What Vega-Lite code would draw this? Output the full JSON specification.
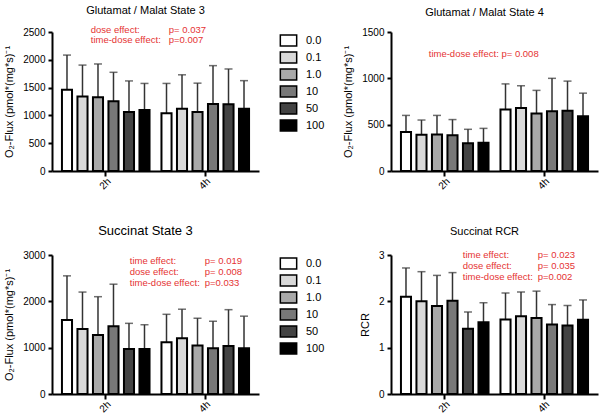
{
  "$schema": "https://vega.github.io/schema/vega-lite/v6.json",
  "background": "white",
  "padding": {"left": 3, "top": 4, "right": 3, "bottom": 0},
  "datasets": {
    "bars": [
      {"panel": "GM3", "time": "2h", "dose": "0.0", "mean": 1460, "upper": 2085},
      {"panel": "GM3", "time": "2h", "dose": "0.1", "mean": 1340, "upper": 1905},
      {"panel": "GM3", "time": "2h", "dose": "1.0", "mean": 1325, "upper": 1925},
      {"panel": "GM3", "time": "2h", "dose": "10", "mean": 1255, "upper": 1775},
      {"panel": "GM3", "time": "2h", "dose": "50", "mean": 1060, "upper": 1620},
      {"panel": "GM3", "time": "2h", "dose": "100", "mean": 1095, "upper": 1575},
      {"panel": "GM3", "time": "4h", "dose": "0.0", "mean": 1040, "upper": 1575},
      {"panel": "GM3", "time": "4h", "dose": "0.1", "mean": 1120, "upper": 1730},
      {"panel": "GM3", "time": "4h", "dose": "1.0", "mean": 1060, "upper": 1580},
      {"panel": "GM3", "time": "4h", "dose": "10", "mean": 1205, "upper": 1895},
      {"panel": "GM3", "time": "4h", "dose": "50", "mean": 1200, "upper": 1835},
      {"panel": "GM3", "time": "4h", "dose": "100", "mean": 1120, "upper": 1625},
      {"panel": "GM4", "time": "2h", "dose": "0.0", "mean": 420, "upper": 600},
      {"panel": "GM4", "time": "2h", "dose": "0.1", "mean": 390, "upper": 550},
      {"panel": "GM4", "time": "2h", "dose": "1.0", "mean": 395, "upper": 600},
      {"panel": "GM4", "time": "2h", "dose": "10", "mean": 385, "upper": 555},
      {"panel": "GM4", "time": "2h", "dose": "50", "mean": 300, "upper": 450},
      {"panel": "GM4", "time": "2h", "dose": "100", "mean": 305, "upper": 460},
      {"panel": "GM4", "time": "4h", "dose": "0.0", "mean": 665, "upper": 940},
      {"panel": "GM4", "time": "4h", "dose": "0.1", "mean": 680, "upper": 920},
      {"panel": "GM4", "time": "4h", "dose": "1.0", "mean": 620, "upper": 870},
      {"panel": "GM4", "time": "4h", "dose": "10", "mean": 645, "upper": 1000},
      {"panel": "GM4", "time": "4h", "dose": "50", "mean": 650, "upper": 970},
      {"panel": "GM4", "time": "4h", "dose": "100", "mean": 590, "upper": 840},
      {"panel": "S3", "time": "2h", "dose": "0.0", "mean": 1595, "upper": 2550},
      {"panel": "S3", "time": "2h", "dose": "0.1", "mean": 1405, "upper": 2200},
      {"panel": "S3", "time": "2h", "dose": "1.0", "mean": 1275, "upper": 2100},
      {"panel": "S3", "time": "2h", "dose": "10", "mean": 1460, "upper": 2370},
      {"panel": "S3", "time": "2h", "dose": "50", "mean": 970, "upper": 1525},
      {"panel": "S3", "time": "2h", "dose": "100", "mean": 970, "upper": 1495},
      {"panel": "S3", "time": "4h", "dose": "0.0", "mean": 1115, "upper": 1720},
      {"panel": "S3", "time": "4h", "dose": "0.1", "mean": 1205, "upper": 1830},
      {"panel": "S3", "time": "4h", "dose": "1.0", "mean": 1045, "upper": 1635},
      {"panel": "S3", "time": "4h", "dose": "10", "mean": 985, "upper": 1570},
      {"panel": "S3", "time": "4h", "dose": "50", "mean": 1035, "upper": 1820},
      {"panel": "S3", "time": "4h", "dose": "100", "mean": 990, "upper": 1680},
      {"panel": "RCR", "time": "2h", "dose": "0.0", "mean": 2.10, "upper": 2.72},
      {"panel": "RCR", "time": "2h", "dose": "0.1", "mean": 2.00, "upper": 2.64},
      {"panel": "RCR", "time": "2h", "dose": "1.0", "mean": 1.90, "upper": 2.56},
      {"panel": "RCR", "time": "2h", "dose": "10", "mean": 2.01, "upper": 2.62},
      {"panel": "RCR", "time": "2h", "dose": "50", "mean": 1.41, "upper": 1.77},
      {"panel": "RCR", "time": "2h", "dose": "100", "mean": 1.55, "upper": 1.97},
      {"panel": "RCR", "time": "4h", "dose": "0.0", "mean": 1.61, "upper": 2.18},
      {"panel": "RCR", "time": "4h", "dose": "0.1", "mean": 1.68, "upper": 2.20},
      {"panel": "RCR", "time": "4h", "dose": "1.0", "mean": 1.64, "upper": 2.22},
      {"panel": "RCR", "time": "4h", "dose": "10", "mean": 1.50, "upper": 1.93},
      {"panel": "RCR", "time": "4h", "dose": "50", "mean": 1.48, "upper": 1.91},
      {"panel": "RCR", "time": "4h", "dose": "100", "mean": 1.60, "upper": 2.03}
    ],
    "notes": [
      {"panel": "GM3", "labels": ["dose effect:", "time-dose effect:"], "ps": ["p= 0.037", "p=0.007"]},
      {"panel": "GM4", "labels": ["time-dose effect: p= 0.008"], "ps": [""]},
      {"panel": "S3", "labels": ["time effect:", "dose effect:", "time-dose effect:"], "ps": ["p= 0.019", "p= 0.008", "p=0.033"]},
      {"panel": "RCR", "labels": ["time effect:", "dose effect:", "time-dose effect:"], "ps": ["p= 0.023", "p= 0.035", "p=0.002"]}
    ]
  },
  "columns": 2,
  "spacing": {"row": 34, "column": 17},
  "resolve": {"scale": {"fill": "independent", "y": "independent", "x": "independent", "xOffset": "independent"}, "legend": {"fill": "independent"}},
  "concat": [
    {
      "title": {"text": "Glutamat / Malat State 3", "fontSize": 11, "offset": 9},
      "width": 207, "height": 139,
      "layer": [
        {"data": {"name": "bars"}, "transform": [{"filter": "datum.panel === 'GM3'"}],
         "mark": {"type": "rule", "color": "#333", "strokeWidth": 1.5},
         "encoding": {
           "x": {"field": "time", "type": "nominal", "title": null, "scale": {"paddingInner": 0.12, "paddingOuter": 0.1}},
           "xOffset": {"field": "dose", "type": "nominal", "scale": {"domain": ["0.0", "0.1", "1.0", "10", "50", "100"], "paddingInner": 0.35, "paddingOuter": 0}},
           "y": {"field": "mean", "type": "quantitative", "title": "O₂-Flux (pmol*(mg*s)⁻¹", "scale": {"domain": [0, 2500], "nice": false}, "axis": {"values": [0, 500, 1000, 1500, 2000, 2500], "format": "d"}},
           "y2": {"field": "upper"}}},
        {"data": {"name": "bars"}, "transform": [{"filter": "datum.panel === 'GM3'"}],
         "mark": {"type": "tick", "orient": "horizontal", "size": 8, "thickness": 1.5, "color": "#333"},
         "encoding": {
           "x": {"field": "time", "type": "nominal", "title": null},
           "xOffset": {"field": "dose", "type": "nominal"},
           "y": {"field": "upper", "type": "quantitative", "title": "O₂-Flux (pmol*(mg*s)⁻¹", "axis": {"values": [0, 500, 1000, 1500, 2000, 2500], "format": "d"}}}},
        {"data": {"name": "bars"}, "transform": [{"filter": "datum.panel === 'GM3'"}],
         "mark": {"type": "bar", "stroke": "black", "strokeWidth": 2},
         "encoding": {
           "x": {"field": "time", "type": "nominal", "title": null},
           "xOffset": {"field": "dose", "type": "nominal"},
           "y": {"field": "mean", "type": "quantitative", "title": "O₂-Flux (pmol*(mg*s)⁻¹", "axis": {"values": [0, 500, 1000, 1500, 2000, 2500], "format": "d"}},
           "fill": {"field": "dose", "type": "nominal", "scale": {"domain": ["0.0", "0.1", "1.0", "10", "50", "100"], "range": ["#ffffff", "#d9d9d9", "#a9a9a9", "#787878", "#434343", "#000000"]}, "legend": {"title": null}}}},
        {"data": {"name": "notes"}, "transform": [{"filter": "datum.panel === 'GM3'"}],
         "mark": {"type": "text", "align": "left", "baseline": "top", "dx": -15, "color": "#e53333", "fontSize": 9.5, "lineHeight": 10},
         "encoding": {"x": {"datum": "2h", "type": "nominal", "title": null}, "y": {"datum": 2626, "type": "quantitative", "title": "O₂-Flux (pmol*(mg*s)⁻¹", "axis": {"values": [0, 500, 1000, 1500, 2000, 2500], "format": "d"}}, "text": {"field": "labels"}}},
        {"data": {"name": "notes"}, "transform": [{"filter": "datum.panel === 'GM3'"}],
         "mark": {"type": "text", "align": "left", "baseline": "top", "dx": 63, "color": "#e53333", "fontSize": 9.5, "lineHeight": 10},
         "encoding": {"x": {"datum": "2h", "type": "nominal", "title": null}, "y": {"datum": 2626, "type": "quantitative", "title": "O₂-Flux (pmol*(mg*s)⁻¹", "axis": {"values": [0, 500, 1000, 1500, 2000, 2500], "format": "d"}}, "text": {"field": "ps"}}}
      ]
    },
    {
      "title": {"text": "Glutamat / Malat State 4", "fontSize": 11, "offset": 9},
      "width": 207, "height": 139,
      "layer": [
        {"data": {"name": "bars"}, "transform": [{"filter": "datum.panel === 'GM4'"}],
         "mark": {"type": "rule", "color": "#333", "strokeWidth": 1.5},
         "encoding": {
           "x": {"field": "time", "type": "nominal", "title": null, "scale": {"paddingInner": 0.12, "paddingOuter": 0.1}},
           "xOffset": {"field": "dose", "type": "nominal", "scale": {"domain": ["0.0", "0.1", "1.0", "10", "50", "100"], "paddingInner": 0.35, "paddingOuter": 0}},
           "y": {"field": "mean", "type": "quantitative", "title": "O₂-Flux (pmol*(mg*s)⁻¹", "scale": {"domain": [0, 1500], "nice": false}, "axis": {"values": [0, 500, 1000, 1500], "format": "d"}},
           "y2": {"field": "upper"}}},
        {"data": {"name": "bars"}, "transform": [{"filter": "datum.panel === 'GM4'"}],
         "mark": {"type": "tick", "orient": "horizontal", "size": 8, "thickness": 1.5, "color": "#333"},
         "encoding": {
           "x": {"field": "time", "type": "nominal", "title": null},
           "xOffset": {"field": "dose", "type": "nominal"},
           "y": {"field": "upper", "type": "quantitative", "title": "O₂-Flux (pmol*(mg*s)⁻¹", "axis": {"values": [0, 500, 1000, 1500], "format": "d"}}}},
        {"data": {"name": "bars"}, "transform": [{"filter": "datum.panel === 'GM4'"}],
         "mark": {"type": "bar", "stroke": "black", "strokeWidth": 2},
         "encoding": {
           "x": {"field": "time", "type": "nominal", "title": null},
           "xOffset": {"field": "dose", "type": "nominal"},
           "y": {"field": "mean", "type": "quantitative", "title": "O₂-Flux (pmol*(mg*s)⁻¹", "axis": {"values": [0, 500, 1000, 1500], "format": "d"}},
           "fill": {"field": "dose", "type": "nominal", "scale": {"domain": ["0.0", "0.1", "1.0", "10", "50", "100"], "range": ["#ffffff", "#d9d9d9", "#a9a9a9", "#787878", "#434343", "#000000"]}, "legend": null}}},
        {"data": {"name": "notes"}, "transform": [{"filter": "datum.panel === 'GM4'"}],
         "mark": {"type": "text", "align": "left", "baseline": "top", "dx": -16, "color": "#e53333", "fontSize": 9.5, "lineHeight": 10},
         "encoding": {"x": {"datum": "2h", "type": "nominal", "title": null}, "y": {"datum": 1315, "type": "quantitative", "title": "O₂-Flux (pmol*(mg*s)⁻¹", "axis": {"values": [0, 500, 1000, 1500], "format": "d"}}, "text": {"field": "labels"}}}
      ]
    },
    {
      "title": {"text": "Succinat State 3", "fontSize": 13, "offset": 12},
      "width": 207, "height": 139,
      "layer": [
        {"data": {"name": "bars"}, "transform": [{"filter": "datum.panel === 'S3'"}],
         "mark": {"type": "rule", "color": "#333", "strokeWidth": 1.5},
         "encoding": {
           "x": {"field": "time", "type": "nominal", "title": null, "scale": {"paddingInner": 0.12, "paddingOuter": 0.1}},
           "xOffset": {"field": "dose", "type": "nominal", "scale": {"domain": ["0.0", "0.1", "1.0", "10", "50", "100"], "paddingInner": 0.35, "paddingOuter": 0}},
           "y": {"field": "mean", "type": "quantitative", "title": "O₂-Flux (pmol*(mg*s)⁻¹", "scale": {"domain": [0, 3000], "nice": false}, "axis": {"values": [0, 1000, 2000, 3000], "format": "d"}},
           "y2": {"field": "upper"}}},
        {"data": {"name": "bars"}, "transform": [{"filter": "datum.panel === 'S3'"}],
         "mark": {"type": "tick", "orient": "horizontal", "size": 8, "thickness": 1.5, "color": "#333"},
         "encoding": {
           "x": {"field": "time", "type": "nominal", "title": null},
           "xOffset": {"field": "dose", "type": "nominal"},
           "y": {"field": "upper", "type": "quantitative", "title": "O₂-Flux (pmol*(mg*s)⁻¹", "axis": {"values": [0, 1000, 2000, 3000], "format": "d"}}}},
        {"data": {"name": "bars"}, "transform": [{"filter": "datum.panel === 'S3'"}],
         "mark": {"type": "bar", "stroke": "black", "strokeWidth": 2},
         "encoding": {
           "x": {"field": "time", "type": "nominal", "title": null},
           "xOffset": {"field": "dose", "type": "nominal"},
           "y": {"field": "mean", "type": "quantitative", "title": "O₂-Flux (pmol*(mg*s)⁻¹", "axis": {"values": [0, 1000, 2000, 3000], "format": "d"}},
           "fill": {"field": "dose", "type": "nominal", "scale": {"domain": ["0.0", "0.1", "1.0", "10", "50", "100"], "range": ["#ffffff", "#d9d9d9", "#a9a9a9", "#787878", "#434343", "#000000"]}, "legend": {"title": null}}}},
        {"data": {"name": "notes"}, "transform": [{"filter": "datum.panel === 'S3'"}],
         "mark": {"type": "text", "align": "left", "baseline": "top", "dx": 24, "color": "#e53333", "fontSize": 9.5, "lineHeight": 11},
         "encoding": {"x": {"datum": "2h", "type": "nominal", "title": null}, "y": {"datum": 2989, "type": "quantitative", "title": "O₂-Flux (pmol*(mg*s)⁻¹", "axis": {"values": [0, 1000, 2000, 3000], "format": "d"}}, "text": {"field": "labels"}}},
        {"data": {"name": "notes"}, "transform": [{"filter": "datum.panel === 'S3'"}],
         "mark": {"type": "text", "align": "left", "baseline": "top", "dx": 99, "color": "#e53333", "fontSize": 9.5, "lineHeight": 11},
         "encoding": {"x": {"datum": "2h", "type": "nominal", "title": null}, "y": {"datum": 2989, "type": "quantitative", "title": "O₂-Flux (pmol*(mg*s)⁻¹", "axis": {"values": [0, 1000, 2000, 3000], "format": "d"}}, "text": {"field": "ps"}}}
      ]
    },
    {
      "title": {"text": "Succinat RCR", "fontSize": 11, "offset": 13},
      "width": 207, "height": 139,
      "layer": [
        {"data": {"name": "bars"}, "transform": [{"filter": "datum.panel === 'RCR'"}],
         "mark": {"type": "rule", "color": "#333", "strokeWidth": 1.5},
         "encoding": {
           "x": {"field": "time", "type": "nominal", "title": null, "scale": {"paddingInner": 0.12, "paddingOuter": 0.1}},
           "xOffset": {"field": "dose", "type": "nominal", "scale": {"domain": ["0.0", "0.1", "1.0", "10", "50", "100"], "paddingInner": 0.35, "paddingOuter": 0}},
           "y": {"field": "mean", "type": "quantitative", "title": "RCR", "scale": {"domain": [0, 3], "nice": false}, "axis": {"values": [0, 1, 2, 3], "format": "d"}},
           "y2": {"field": "upper"}}},
        {"data": {"name": "bars"}, "transform": [{"filter": "datum.panel === 'RCR'"}],
         "mark": {"type": "tick", "orient": "horizontal", "size": 8, "thickness": 1.5, "color": "#333"},
         "encoding": {
           "x": {"field": "time", "type": "nominal", "title": null},
           "xOffset": {"field": "dose", "type": "nominal"},
           "y": {"field": "upper", "type": "quantitative", "title": "RCR", "axis": {"values": [0, 1, 2, 3], "format": "d"}}}},
        {"data": {"name": "bars"}, "transform": [{"filter": "datum.panel === 'RCR'"}],
         "mark": {"type": "bar", "stroke": "black", "strokeWidth": 2},
         "encoding": {
           "x": {"field": "time", "type": "nominal", "title": null},
           "xOffset": {"field": "dose", "type": "nominal"},
           "y": {"field": "mean", "type": "quantitative", "title": "RCR", "axis": {"values": [0, 1, 2, 3], "format": "d"}},
           "fill": {"field": "dose", "type": "nominal", "scale": {"domain": ["0.0", "0.1", "1.0", "10", "50", "100"], "range": ["#ffffff", "#d9d9d9", "#a9a9a9", "#787878", "#434343", "#000000"]}, "legend": null}}},
        {"data": {"name": "notes"}, "transform": [{"filter": "datum.panel === 'RCR'"}],
         "mark": {"type": "text", "align": "left", "baseline": "top", "dx": 18, "color": "#e53333", "fontSize": 9.5, "lineHeight": 11},
         "encoding": {"x": {"datum": "2h", "type": "nominal", "title": null}, "y": {"datum": 3.1, "type": "quantitative", "title": "RCR", "axis": {"values": [0, 1, 2, 3], "format": "d"}}, "text": {"field": "labels"}}},
        {"data": {"name": "notes"}, "transform": [{"filter": "datum.panel === 'RCR'"}],
         "mark": {"type": "text", "align": "left", "baseline": "top", "dx": 93, "color": "#e53333", "fontSize": 9.5, "lineHeight": 11},
         "encoding": {"x": {"datum": "2h", "type": "nominal", "title": null}, "y": {"datum": 3.1, "type": "quantitative", "title": "RCR", "axis": {"values": [0, 1, 2, 3], "format": "d"}}, "text": {"field": "ps"}}}
      ]
    }
  ],
  "config": {
    "font": "Liberation Sans",
    "view": {"stroke": null},
    "axis": {"domainColor": "black", "domainWidth": 2, "tickColor": "black", "tickWidth": 2, "tickSize": 4, "labelColor": "black", "labelFontSize": 10, "labelFont": "Liberation Sans", "titleFont": "Liberation Sans", "titleFontSize": 11, "titleFontWeight": "normal", "titleColor": "black", "grid": false, "labelOverlap": false},
    "axisX": {"labelAngle": -45, "tickSize": 5, "labelPadding": 0},
    "axisY": {"titlePadding": 8, "labelPadding": 3},
    "legend": {"orient": "right", "offset": 21, "padding": 0, "symbolType": "M-1.12,-0.75H1.12V0.75H-1.12Z", "symbolSize": 213, "symbolStrokeColor": "black", "symbolStrokeWidth": 1.5, "symbolOpacity": 1, "labelFontSize": 11, "labelColor": "black", "labelFont": "Liberation Sans", "labelOffset": 9, "rowPadding": 0},
    "title": {"fontWeight": "normal", "color": "black", "font": "Liberation Sans", "anchor": "middle", "frame": "group", "dx": -10}
  }
}
